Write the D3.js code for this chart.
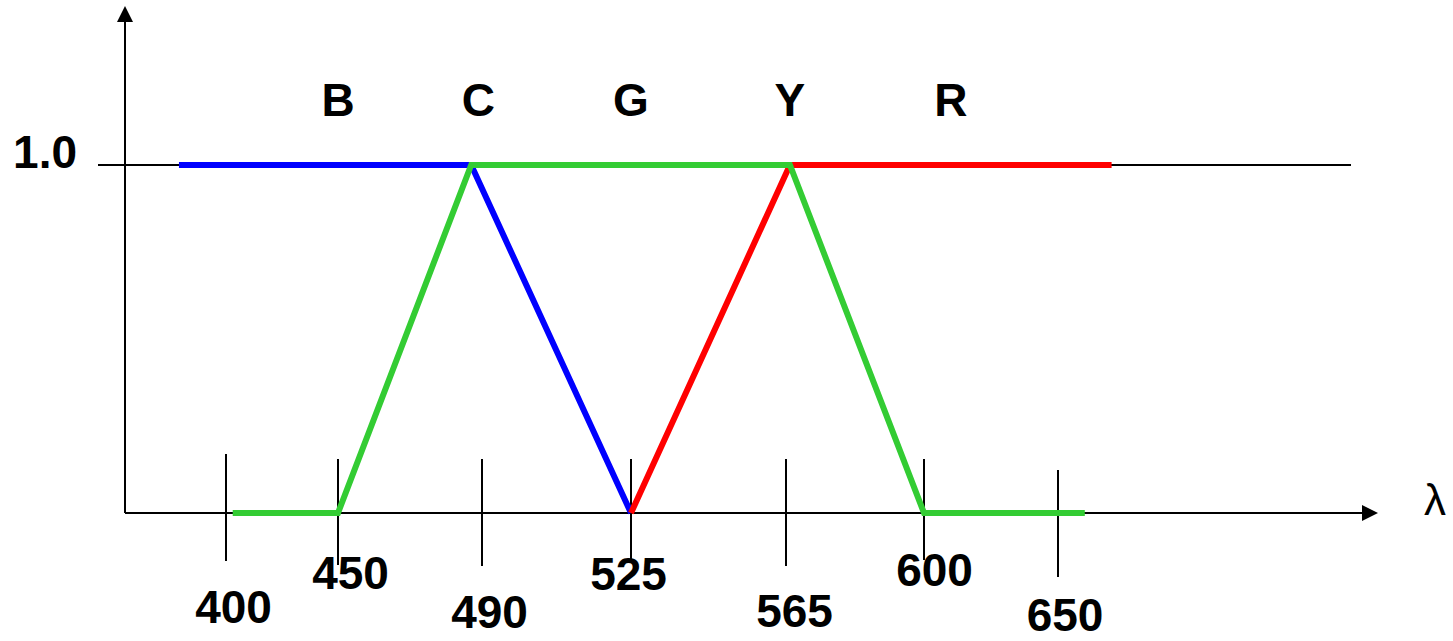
<!DOCTYPE html>
<html>
<head>
<meta charset="utf-8">
<script src="https://cdn.jsdelivr.net/npm/d3@7"></script>
<style>
  html, body { margin: 0; padding: 0; background: #fff; }
  svg { display: block; }
  text { font-family: "Liberation Sans", Arial, sans-serif; }
</style>
</head>
<body>
<script>
// ---- data ----
const tickValues = [400, 450, 490, 525, 565, 600, 650];
const tickLabels = ["400", "450", "490", "525", "565", "600", "650"];
const bandLetters = ["B", "C", "G", "Y", "R"];
const bandCenters = [450, 489, 525, 566, 610];

const blueWl  = [379, 487, 525];
const blueVal = [1, 1, 0];
const greenWl  = [403, 450, 487, 566, 600, 660];
const greenVal = [0, 0, 1, 1, 0, 0];
const redWl  = [525, 566, 670];
const redVal = [0, 1, 1];

const yTickValue = 1.0;
const yTickLabel = "1.0";
const xAxisLabel = "λ";

// ---- layout ----
const W = 1453, H = 641;
const tickPx = [226, 338, 482, 631, 786, 924, 1058];   // schematic (non-linear) axis placement
const tickTop    = [454, 459, 459, 459, 459, 459, 470];
const tickBottom = [561, 565, 566, 560, 566, 560, 577];
const labelDx = [7.5, 12.5, 7.5, -2.5, 8.5, 10.5, 7];
const labelY  = [623, 589, 628, 590, 627, 586, 631];

const x = d3.scaleLinear().domain(tickValues).range(tickPx);   // piecewise, extrapolates at ends
const y = d3.scaleLinear().domain([0, 1]).range([513, 165]);

const svg = d3.select("body").append("svg").attr("width", W).attr("height", H);

const axisX0 = 125;

// y axis
svg.append("line").attr("x1", axisX0).attr("x2", axisX0).attr("y1", y(0)).attr("y2", 20)
  .attr("stroke", "#000").attr("stroke-width", 2);
svg.append("path").attr("d", `M${axisX0},6 L${axisX0 - 8},22 L${axisX0 + 8},22 Z`).attr("fill", "#000");

// x axis
svg.append("line").attr("x1", axisX0).attr("x2", 1364).attr("y1", y(0)).attr("y2", y(0))
  .attr("stroke", "#000").attr("stroke-width", 2);
svg.append("path").attr("d", `M1378,${y(0)} L1362,${y(0) - 8} L1362,${y(0) + 8} Z`).attr("fill", "#000");
svg.append("text").attr("x", 1424).attr("y", 515).attr("font-size", 44).text(xAxisLabel);

// 1.0 reference line
svg.append("line").attr("x1", 98).attr("x2", 1351).attr("y1", y(yTickValue)).attr("y2", y(yTickValue))
  .attr("stroke", "#000").attr("stroke-width", 2);
svg.append("text").attr("x", 77).attr("y", y(yTickValue) + 3).attr("text-anchor", "end")
  .attr("font-size", 46).attr("font-weight", "bold").text(yTickLabel);

// x ticks
const ticks = svg.append("g");
tickValues.forEach((v, i) => {
  ticks.append("line").attr("x1", x(v)).attr("x2", x(v)).attr("y1", tickTop[i]).attr("y2", tickBottom[i])
    .attr("stroke", "#000").attr("stroke-width", 2);
});
tickValues.forEach((v, i) => {
  ticks.append("text").attr("x", x(v) + labelDx[i]).attr("y", labelY[i]).attr("text-anchor", "middle")
    .attr("font-size", 46).attr("font-weight", "bold").text(tickLabels[i]);
});

// band letters
bandLetters.forEach((t, i) => {
  svg.append("text").attr("x", x(bandCenters[i])).attr("y", 116).attr("text-anchor", "middle")
    .attr("font-size", 46).attr("font-weight", "bold").text(t);
});

// curves
const line = d3.line().x(d => x(d[0])).y(d => y(d[1]));
function drawSeries(wl, val, color) {
  svg.append("path").datum(d3.zip(wl, val)).attr("d", line)
    .attr("fill", "none").attr("stroke", color).attr("stroke-width", 6)
    .attr("stroke-linejoin", "miter");
}
drawSeries(blueWl, blueVal, "#0000ff");
drawSeries(redWl, redVal, "#ff0000");
drawSeries(greenWl, greenVal, "#33cc33");
</script>
</body>
</html>
